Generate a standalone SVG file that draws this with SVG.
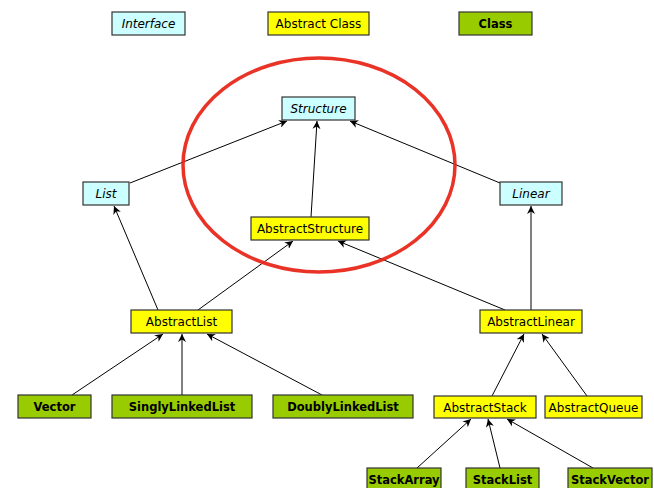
<svg xmlns="http://www.w3.org/2000/svg" width="654" height="488" viewBox="0 0 654 488">
<style>
.box{stroke:#333;stroke-width:1.2}
.i{fill:#CCFFFF}
.a{fill:#FFFF00}
.c{fill:#99CC00}
text{font-family:"DejaVu Sans","Liberation Sans",sans-serif;font-size:12px;text-anchor:middle;fill:#000}
.it{font-style:italic}
.b{font-weight:bold;font-size:11.5px}
.e{stroke:#000;stroke-width:1;fill:none;marker-end:url(#ah)}
</style>
<defs>
<marker id="ah" viewBox="0 0 10 10" refX="10" refY="5" markerWidth="8" markerHeight="8" markerUnits="userSpaceOnUse" orient="auto">
<path d="M0,0 L10,5 L0,10 L3,5 Z" fill="#000"/>
</marker>
</defs>
<rect width="654" height="488" fill="#fff"/>
<g id="legend">
<g id="legend-interface"><rect class="box i" x="112" y="12" width="73" height="23"/><text class="it" x="148.5" y="28">Interface</text></g>
<g id="legend-abstract"><rect class="box a" x="268" y="12" width="101" height="23"/><text x="318.5" y="28">Abstract Class</text></g>
<g id="legend-class"><rect class="box c" x="459" y="12" width="73" height="23"/><text class="b" x="495.5" y="28">Class</text></g>
</g>
<g id="connectors">
<line class="e" x1="130" y1="183" x2="287" y2="121"/>
<line class="e" x1="311" y1="217" x2="317" y2="121"/>
<line class="e" x1="500" y1="183" x2="350" y2="121"/>
<line class="e" x1="158" y1="310" x2="114" y2="206"/>
<line class="e" x1="198" y1="310" x2="293" y2="241"/>
<line class="e" x1="505" y1="310" x2="338" y2="241"/>
<line class="e" x1="531" y1="310" x2="531" y2="206"/>
<line class="e" x1="72" y1="395" x2="163" y2="334"/>
<line class="e" x1="182" y1="395" x2="182" y2="334"/>
<line class="e" x1="322" y1="395" x2="207" y2="334"/>
<line class="e" x1="492" y1="396" x2="524" y2="334"/>
<line class="e" x1="587" y1="396" x2="542" y2="334"/>
<line class="e" x1="417" y1="468" x2="471" y2="419"/>
<line class="e" x1="500" y1="468" x2="488" y2="419"/>
<line class="e" x1="593" y1="468" x2="507" y2="419"/>
</g>
<g id="Structure"><rect class="box i" x="282" y="97" width="73" height="23"/><text class="it" x="318.5" y="113">Structure</text></g>
<g id="List"><rect class="box i" x="83" y="182" width="46" height="23"/><text class="it" x="106" y="198">List</text></g>
<g id="Linear"><rect class="box i" x="500" y="182" width="62" height="23"/><text class="it" x="531" y="198">Linear</text></g>
<g id="AbstractStructure"><rect class="box a" x="251" y="217" width="118" height="23"/><text x="310" y="233">AbstractStructure</text></g>
<g id="AbstractList"><rect class="box a" x="131" y="310" width="101" height="23"/><text x="181.5" y="326">AbstractList</text></g>
<g id="AbstractLinear"><rect class="box a" x="480" y="310" width="102" height="23"/><text x="531" y="326">AbstractLinear</text></g>
<g id="Vector"><rect class="box c" x="18" y="395" width="73" height="23"/><text class="b" x="54.5" y="411">Vector</text></g>
<g id="SinglyLinkedList"><rect class="box c" x="112" y="395" width="140" height="23"/><text class="b" x="182" y="411">SinglyLinkedList</text></g>
<g id="DoublyLinkedList"><rect class="box c" x="273" y="395" width="140" height="23"/><text class="b" x="343" y="411">DoublyLinkedList</text></g>
<g id="AbstractStack"><rect class="box a" x="434" y="396" width="102" height="22"/><text x="485" y="412">AbstractStack</text></g>
<g id="AbstractQueue"><rect class="box a" x="545" y="396" width="97" height="22"/><text x="593.5" y="412">AbstractQueue</text></g>
<g id="StackArray"><rect class="box c" x="367" y="468" width="74" height="23"/><text class="b" x="404" y="484">StackArray</text></g>
<g id="StackList"><rect class="box c" x="466" y="468" width="73" height="23"/><text class="b" x="502.5" y="484">StackList</text></g>
<g id="StackVector"><rect class="box c" x="568" y="468" width="84" height="23"/><text class="b" x="610" y="484">StackVector</text></g>
<g id="highlight"><ellipse cx="319" cy="165" rx="136" ry="107" fill="none" stroke="#E8281A" stroke-width="3.5" opacity="0.95"/></g>
</svg>
